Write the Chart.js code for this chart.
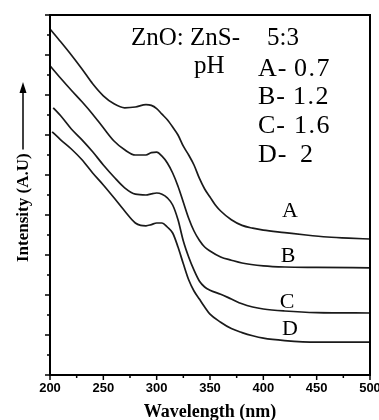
<!DOCTYPE html>
<html>
<head>
<meta charset="utf-8">
<script src="https://cdn.jsdelivr.net/npm/chart.js@4/dist/chart.umd.min.js"></script>
<style>
  html, body { margin: 0; padding: 0; background: #fff; }
  #c { display: block; }
</style>
</head>
<body>
<canvas id="c" width="379" height="420"></canvas>
<script>
// ---- data ----
const seriesNames = ['A', 'B', 'C', 'D'];
const phValues = ['0.7', '1.2', '1.6', '2'];
const xTicks = [200, 250, 300, 350, 400, 450, 500];

const waveA = [200,210,220,230,240,250,260,270,280,290,295,300,305,310,315,320,325,330,335,340,345,350,355,360,370,380,390,400,420,440,460,480,500];
const intA  = [8.65,8.33,8.0,7.65,7.28,6.98,6.78,6.68,6.7,6.76,6.74,6.66,6.52,6.38,6.2,6.0,5.72,5.5,5.25,4.92,4.65,4.45,4.25,4.1,3.88,3.74,3.67,3.62,3.56,3.5,3.45,3.42,3.4];

const waveB = [200,210,220,230,240,250,260,270,280,290,295,300,305,310,315,320,325,330,335,340,345,350,360,370,380,400,420,450,500];
const intB  = [7.73,7.42,7.12,6.83,6.52,6.18,5.85,5.63,5.5,5.5,5.56,5.57,5.47,5.3,5.05,4.72,4.32,3.92,3.6,3.37,3.2,3.1,2.95,2.87,2.8,2.73,2.7,2.69,2.68];

const waveC = [203,210,220,230,240,250,260,270,280,290,295,300,305,310,315,320,325,330,335,340,345,350,360,370,380,390,400,420,450,500];
const intC  = [6.68,6.48,6.15,5.88,5.58,5.25,4.95,4.68,4.52,4.5,4.53,4.55,4.52,4.43,4.25,3.88,3.35,2.95,2.62,2.35,2.2,2.12,2.02,1.9,1.78,1.7,1.65,1.6,1.56,1.55];

const waveD = [202,210,220,230,240,250,260,270,280,285,290,295,300,305,310,315,320,325,330,335,340,345,350,360,370,380,390,400,420,450,500];
const intD  = [6.08,5.88,5.65,5.38,5.05,4.75,4.43,4.1,3.8,3.74,3.73,3.76,3.8,3.8,3.7,3.55,3.2,2.78,2.38,2.1,1.9,1.7,1.52,1.32,1.16,1.06,0.98,0.92,0.86,0.82,0.82];

const waves = [waveA, waveB, waveC, waveD];
const ints = [intA, intB, intC, intD];

const SERIF = "'Liberation Serif', 'Times New Roman', serif";

const datasets = seriesNames.map((name, k) => ({
  label: name,
  data: waves[k].map((x, i) => ({ x: x, y: ints[k][i] })),
  borderColor: '#1a1a1a',
  borderWidth: 1.7,
  pointRadius: 0,
  fill: false,
  cubicInterpolationMode: 'monotone'
}));

const decor = {
  id: 'decor',
  afterDraw(chart) {
    const ctx = chart.ctx;
    const a = chart.chartArea;
    const xs = chart.scales.x, ys = chart.scales.y;
    ctx.save();
    ctx.strokeStyle = '#000';
    ctx.fillStyle = '#000';
    // frame
    ctx.lineWidth = 2;
    ctx.strokeRect(a.left, a.top, a.right - a.left, a.bottom - a.top);
    // y ticks (major / minor), outward
    ctx.lineWidth = 1.5;
    for (let v = 0; v <= 9; v += 0.5) {
      const y = ys.getPixelForValue(v);
      const len = (v % 1 === 0) ? 5 : 3;
      ctx.beginPath(); ctx.moveTo(a.left - len, y); ctx.lineTo(a.left, y); ctx.stroke();
    }
    // x ticks
    for (let v = 200; v <= 500; v += 25) {
      const x = xs.getPixelForValue(v);
      const len = (v % 50 === 0) ? 5 : 3;
      ctx.beginPath(); ctx.moveTo(x, a.bottom); ctx.lineTo(x, a.bottom + len); ctx.stroke();
    }
    // y title with arrow
    ctx.font = 'bold 17px ' + SERIF;
    const yt = 'Intensity (A.U)';
    const w = ctx.measureText(yt).width;
    ctx.save();
    ctx.translate(28, 262);
    ctx.rotate(-Math.PI / 2);
    ctx.textAlign = 'left';
    ctx.textBaseline = 'alphabetic';
    ctx.fillText(yt, 0, 0);
    ctx.restore();
    const ax = 23;
    ctx.lineWidth = 1.5;
    ctx.beginPath(); ctx.moveTo(ax, 262 - w - 4); ctx.lineTo(ax, 90); ctx.stroke();
    ctx.beginPath(); ctx.moveTo(ax, 82); ctx.lineTo(ax - 3.5, 93); ctx.lineTo(ax + 3.5, 93); ctx.closePath(); ctx.fill();
    // legend text
    ctx.font = '25px ' + SERIF;
    ctx.textAlign = 'left';
    ctx.textBaseline = 'alphabetic';
    ctx.fillText('ZnO: ZnS-', 131, 45);
    ctx.fillText('5:3', 267, 45);
    ctx.fillText('pH', 194, 73);
    const rows = [76, 104, 133, 162];
    const valX = [294, 293, 294, 300];
    ctx.font = '26px ' + SERIF;
    seriesNames.forEach((n, i) => {
      ctx.letterSpacing = '1px';
      ctx.fillText(n + '-', 258, rows[i]);
      ctx.letterSpacing = '1.5px';
      ctx.fillText(phValues[i], valX[i], rows[i]);
    });
    ctx.letterSpacing = '0px';
    // curve labels
    ctx.font = '22px ' + SERIF;
    ctx.textAlign = 'center';
    const lab = [[290, 217], [288, 262], [287, 308], [290, 335]];
    seriesNames.forEach((n, i) => ctx.fillText(n, lab[i][0], lab[i][1]));
    ctx.restore();
  }
};

new Chart(document.getElementById('c'), {
  type: 'line',
  data: { datasets: datasets },
  options: {
    responsive: false,
    animation: false,
    devicePixelRatio: 1,
    layout: { padding: { top: 15, right: 9, left: 0, bottom: 0 } },
    plugins: { legend: { display: false }, tooltip: { enabled: false } },
    scales: {
      x: {
        type: 'linear', min: 200, max: 500,
        afterBuildTicks: (s) => { s.ticks = xTicks.map(v => ({ value: v })); },
        ticks: { font: { family: "'Liberation Sans', Arial, sans-serif", size: 13, weight: 'bold' }, color: '#000', padding: 6, maxRotation: 0, autoSkip: false },
        grid: { display: false, drawTicks: false },
        border: { display: false },
        title: { display: true, text: 'Wavelength (nm)', color: '#000', font: { family: SERIF, size: 18, weight: 'bold' }, padding: { top: 0, bottom: -3 } },
        afterFit: (s) => { s.height = 45; s.paddingLeft = 0; s.paddingRight = 0; }
      },
      y: {
        type: 'linear', min: 0, max: 9,
        ticks: { display: false },
        grid: { display: false, drawTicks: false },
        border: { display: false },
        afterFit: (s) => { s.width = 50; }
      }
    }
  },
  plugins: [decor]
});
</script>
</body>
</html>
